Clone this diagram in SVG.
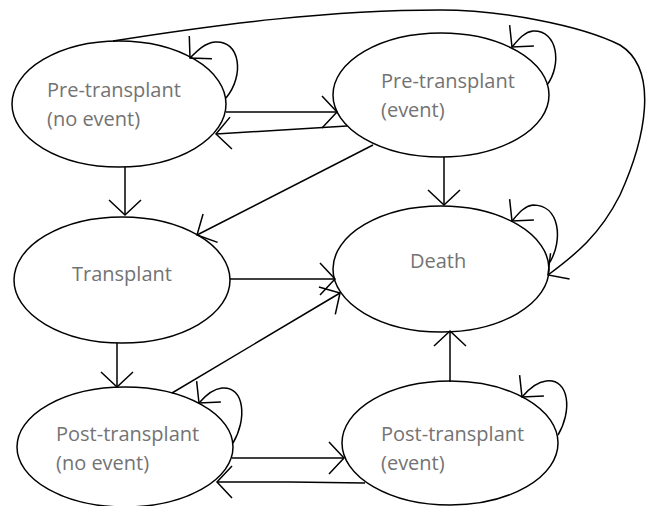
<svg xmlns="http://www.w3.org/2000/svg" width="646" height="506" viewBox="0 0 646 506">
<defs>
<style>
.node ellipse{fill:#fff;stroke:#000;stroke-width:1.5}
.node text{font-family:"Open Sans","Liberation Sans",sans-serif;font-size:20px;fill:#737373}
.edge{fill:none;stroke:#000;stroke-width:1.5;marker-end:url(#ah)}
</style>
<marker id="ah" markerUnits="userSpaceOnUse" markerWidth="40" markerHeight="40" viewBox="-20 -20 24 40" refX="0" refY="0" orient="auto" overflow="visible">
<path d="M-15,-16 L0,0 L-15,16" fill="none" stroke="#000" stroke-width="1.5"/>
</marker>
</defs>
<rect width="646" height="506" fill="#fff"/>
<g id="nodes">
<g id="pre-no-event" class="node">
<ellipse cx="119" cy="104" rx="107" ry="63"/>
<text x="47" y="97">Pre-transplant</text>
<text x="47" y="126">(no event)</text>
</g>
<g id="pre-event" class="node">
<ellipse cx="441" cy="95" rx="108" ry="62"/>
<text x="381" y="88">Pre-transplant</text>
<text x="381" y="117">(event)</text>
</g>
<g id="transplant" class="node">
<ellipse cx="122" cy="280" rx="108" ry="63"/>
<text x="72" y="281">Transplant</text>
</g>
<g id="death" class="node">
<ellipse cx="441" cy="269" rx="108" ry="63"/>
<text x="410" y="268">Death</text>
</g>
<g id="post-no-event" class="node">
<ellipse cx="125" cy="447" rx="108" ry="60"/>
<text x="56" y="441">Post-transplant</text>
<text x="56" y="470">(no event)</text>
</g>
<g id="post-event" class="node">
<ellipse cx="450" cy="443" rx="108" ry="62"/>
<text x="381" y="441">Post-transplant</text>
<text x="381" y="470">(event)</text>
</g>
</g>
<g id="connectors">
<path class="edge" d="M226,98 C245,75 240,40 215,42 C205,43 198,50 190,58"/>
<path class="edge" d="M547,85 C562,65 558,30 533,31 C524,32 518,40 512,47"/>
<path class="edge" d="M550,262 C563,240 560,205 533,205 C524,206 518,214 512,221"/>
<path class="edge" d="M233,443 C247,420 245,386 222,388 C212,389 205,396 199,403"/>
<path class="edge" d="M558,435 C572,412 570,378 546,381 C536,382 528,390 522,397"/>
<path class="edge" d="M226,112 L337,112"/>
<path class="edge" d="M347,126 L216,134"/>
<path class="edge" d="M125,167 L125,215"/>
<path class="edge" d="M373,145 L197,235"/>
<path class="edge" d="M444,157 L444,205"/>
<path class="edge" d="M113,41 C220,24 330,10 440,10 C500,10 580,25 620,45 C660,70 645,140 620,195 C600,235 575,255 548,275"/>
<path class="edge" d="M230,279 L335,279"/>
<path class="edge" d="M172,393 L340,293"/>
<path class="edge" d="M117,343 L117,387"/>
<path class="edge" d="M450,382 L450,331"/>
<path class="edge" d="M232,458 L344,458"/>
<path class="edge" d="M365,483 L290,482 L217,482"/>
</g>
</svg>
